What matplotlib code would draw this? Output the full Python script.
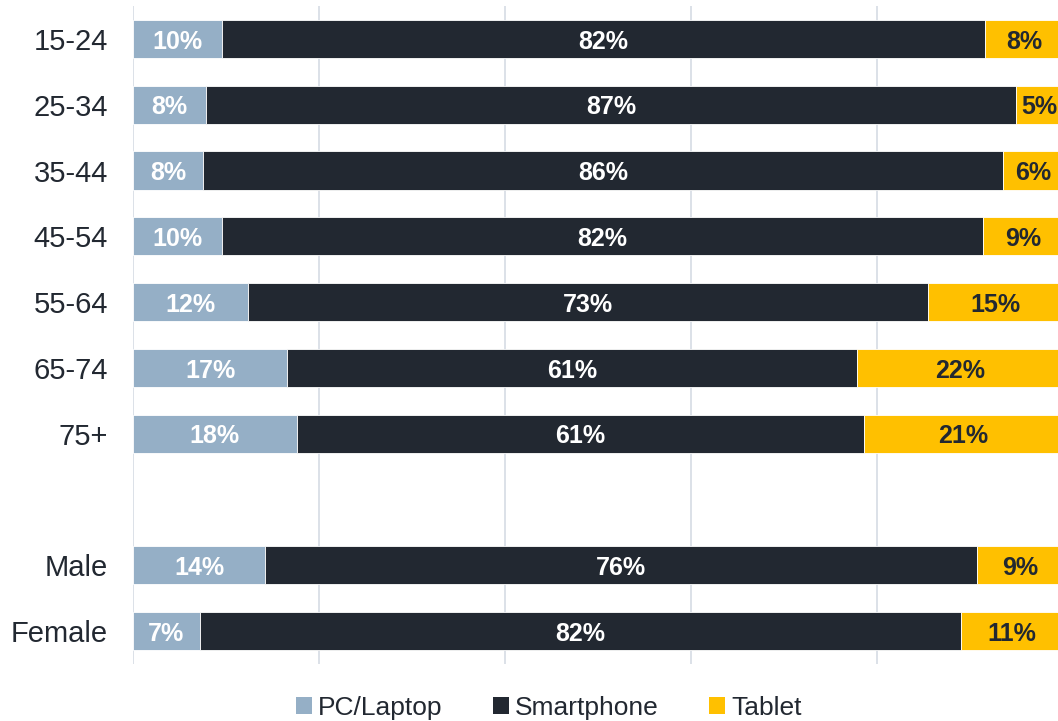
import matplotlib.pyplot as plt
from matplotlib.patches import Patch
import numpy as np

plt.rcParams['font.family'] = ['Liberation Sans', 'DejaVu Sans']

categories = ['15-24', '25-34', '35-44', '45-54', '55-64', '65-74', '75+', '', 'Male', 'Female']
pc = [9.6, 7.9, 7.5, 9.6, 12.4, 16.6, 17.6, np.nan, 14.2, 7.2]
smartphone = [82.0, 87.0, 86.1, 81.8, 73.1, 61.2, 61.0, np.nan, 76.5, 81.8]
tablet = [8.4, 5.1, 6.4, 8.6, 14.5, 22.2, 21.4, np.nan, 9.3, 11.0]
pc_labels = ['10%', '8%', '8%', '10%', '12%', '17%', '18%', '', '14%', '7%']
sp_labels = ['82%', '87%', '86%', '82%', '73%', '61%', '61%', '', '76%', '82%']
tab_labels = ['8%', '5%', '6%', '9%', '15%', '22%', '21%', '', '9%', '11%']
series = ['PC/Laptop', 'Smartphone', 'Tablet']

colors = ['#95AFC6', '#222831', '#FFC000']
text_colors = ['white', 'white', '#222831']

fig = plt.figure(figsize=(10.58, 7.21), dpi=100)
ax = fig.add_axes([133 / 1058, 57 / 721, 930 / 1058, 658 / 721])

y = np.arange(len(categories))
keep = ~np.isnan(np.array(pc, dtype=float))
left = np.zeros(keep.sum())
for vals, labels, col, tcol in zip([pc, smartphone, tablet],
                                   [pc_labels, sp_labels, tab_labels],
                                   colors, text_colors):
    v = np.array(vals, dtype=float)[keep]
    bars = ax.barh(y[keep], v, left=left, height=0.58, color=col,
                   edgecolor='white', linewidth=0.6, zorder=3)
    for yy, ll, vv, lab in zip(y[keep], left, v, np.array(labels)[keep]):
        ax.text(ll + vv / 2, yy + 0.04, lab, ha='center', va='center',
                color=tcol, fontsize=18, fontweight='bold', zorder=4)
    left = left + v

ax.set_xlim(0, 100)
ax.set_ylim(len(categories) - 0.5, -0.5)
ax.set_xticks(np.arange(0, 101, 20))
ax.set_xticklabels([])
ax.set_yticks(y)
ax.set_yticklabels(categories, fontsize=21, color='#222831')
ax.tick_params(axis='both', length=0)
ax.tick_params(axis='y', pad=18)
ax.grid(True, axis='x', color='#D9DEE6', linewidth=1.3, zorder=0)
for s in ax.spines.values():
    s.set_visible(False)

handles = [Patch(facecolor=c, edgecolor='none') for c in colors]
fig.legend(handles, series, loc='center', bbox_to_anchor=(549 / 1058, 13 / 721),
           ncol=3, frameon=False, fontsize=19, handlelength=0.6, handleheight=0.6,
           handletextpad=0.25, columnspacing=1.9, labelcolor='#222831')

fig.savefig('out.png', dpi=100)
